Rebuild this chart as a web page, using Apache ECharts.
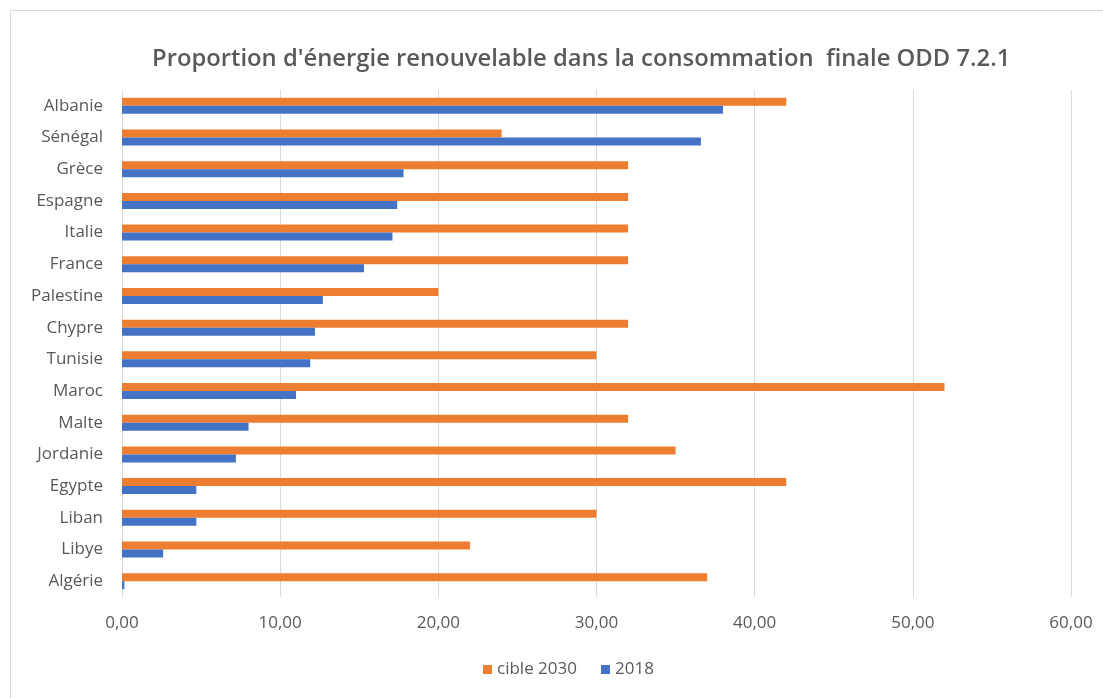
<!DOCTYPE html>
<html>
<head>
<meta charset="utf-8">
<script src="https://cdn.jsdelivr.net/npm/echarts@6/dist/echarts.min.js"></script>
<style>html,body{margin:0;padding:0;background:#fff}#c{width:1103px;height:698px}</style>
</head>
<body>
<div id="c"></div>
<script>
var categories = ['Albanie','Sénégal','Grèce','Espagne','Italie','France','Palestine','Chypre','Tunisie','Maroc','Malte','Jordanie','Egypte','Liban','Libye','Algérie'];
var cible2030 = [42, 24, 32, 32, 32, 32, 20, 32, 30, 52, 32, 35, 42, 30, 22, 37];
var values2018 = [38.0, 36.6, 17.8, 17.4, 17.1, 15.3, 12.7, 12.2, 11.9, 11.0, 8.0, 7.2, 4.7, 4.7, 2.6, 0.15];
var seriesNames = ['cible 2030', '2018'];
var titleText = "Proportion d'énergie renouvelable dans la consommation  finale ODD 7.2.1";

var chart = echarts.init(document.getElementById('c'));
var font = 'Open Sans';
chart.setOption({
  animation: false,
  graphic: [{type:'rect', shape:{x:10.5,y:10.5,width:1200,height:800}, style:{fill:'none', stroke:'#d9d9d9', lineWidth:1}, silent:true}],
  title: {text: titleText, left: 152, top: 47, padding: 0,
    textStyle: {fontFamily: font, fontSize: 23.8, fontWeight: 600, color: '#595959'}},
  legend: {bottom: 15, left: 478, itemWidth: 9, itemHeight: 9, itemGap: 24,
    icon: 'rect', textStyle: {fontFamily: font, fontSize: 17, color: '#595959'},
    data: seriesNames},
  grid: {left: 122, right: 32, top: 90, bottom: 101, containLabel: false},
  xAxis: {type: 'value', min: 0, max: 60, interval: 10,
    axisLine: {show: false}, axisTick: {show: false},
    splitLine: {lineStyle: {color: '#d9d9d9', width: 1}},
    axisLabel: {fontFamily: font, fontSize: 17, color: '#595959', margin: 18,
      formatter: function(v){ return v.toFixed(2).replace('.', ','); }}},
  yAxis: {type: 'category', inverse: true, data: categories,
    axisLine: {show: true, lineStyle: {color: '#d9d9d9'}}, axisTick: {show: false},
    axisLabel: {fontFamily: font, fontSize: 17, color: '#595959', margin: 19}},
  series: [
    {name: seriesNames[0], type: 'bar', data: cible2030, barWidth: 8, barGap: '0%', itemStyle: {color: '#ED7D31'}},
    {name: seriesNames[1], type: 'bar', data: values2018, barWidth: 8, barGap: '0%', itemStyle: {color: '#4472C4'}}
  ]
});
</script>
</body>
</html>
